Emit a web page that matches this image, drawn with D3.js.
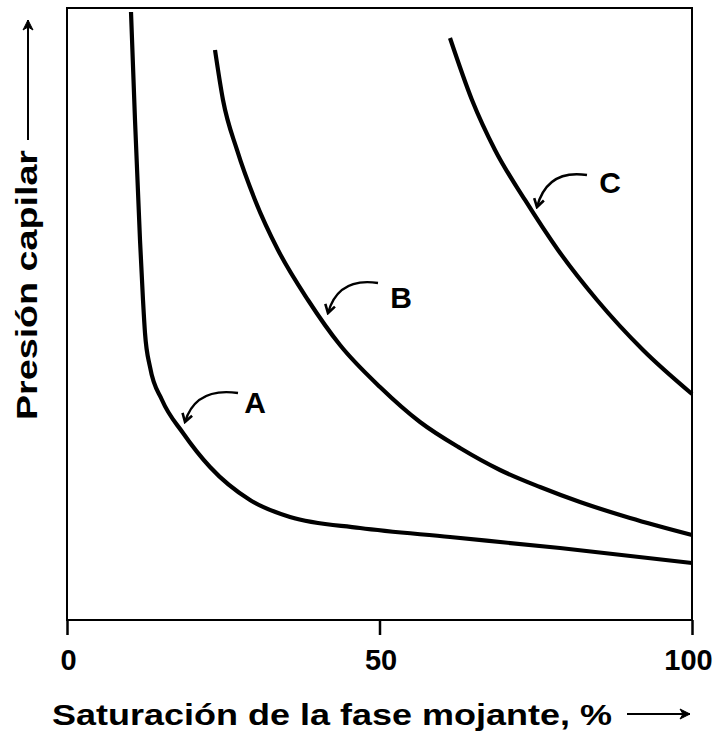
<!DOCTYPE html>
<html>
<head>
<meta charset="utf-8">
<script src="https://cdn.jsdelivr.net/npm/d3@7/dist/d3.min.js"></script>
<style>
  html, body { margin: 0; padding: 0; background: #fff; }
  svg text { font-family: "Liberation Sans", Arial, sans-serif; font-weight: bold; fill: #000; }
</style>
</head>
<body>
<svg id="chart" width="713" height="732"></svg>
<script>
// ---- data (x: saturation %, y: relative capillary pressure 0-100) ----
const xTicks = [0, 50, 100];
const curveA = [[10.24,99.35],[10.88,81.70],[11.68,62.09],[12.16,52.29],[12.48,46.90],[13.28,41.34],[15.2,35.95],[18.56,30.56],[22.88,25.0],[29.28,19.61],[35.68,16.83],[46.88,15.03],[61.28,13.56],[78.88,11.76],[100,9.31]];
const curveB = [[23.68,93.14],[24.96,84.97],[27.2,76.80],[30.08,68.63],[33.76,60.46],[38.56,52.29],[43.68,44.93],[50.08,38.07],[56.48,32.35],[62.88,28.10],[69.28,24.51],[75.68,21.73],[82.08,19.28],[90.08,16.67],[100,13.89]];
const curveC = [[61.28,95.10],[64.8,84.97],[68.48,76.80],[73.28,68.63],[78.56,60.46],[84.8,52.29],[92.16,44.12],[100,36.93]];
const seriesNames = ["A", "B", "C"];
// label anchor and arrow (start -> end on curve), in data units
const labelPos = [[30.08,33.82],[53.44,50.98],[86.88,69.77]];
const arrowStart = [[27.36,37.09],[49.76,55.07],[83.2,72.71]];
const arrowEnd = [[18.88,32.35],[41.76,50.16],[75.2,67.48]];
const xTitle = "Saturación de la fase mojante, %";
const yTitle = "Presión capilar";

// ---- layout ----
const svg = d3.select("#chart");
const mLeft = 67, mRight = 692, mTop = 8, mBottom = 620;
const x = d3.scaleLinear().domain([0, 100]).range([mLeft, mRight]);
const y = d3.scaleLinear().domain([0, 100]).range([mBottom, mTop]);

const defs = svg.append("defs");
defs.append("marker").attr("id", "head")
  .attr("viewBox", "-10 -6 12 12").attr("refX", 0).attr("refY", 0)
  .attr("markerWidth", 12).attr("markerHeight", 12)
  .attr("markerUnits", "userSpaceOnUse").attr("orient", "auto")
  .append("path").attr("d", "M-8,-5 L0,0 L-8,5")
  .attr("fill", "none").attr("stroke", "#000").attr("stroke-width", 2.6)
  .attr("stroke-linejoin", "miter");
defs.append("marker").attr("id", "axhead")
  .attr("viewBox", "-12 -7 14 14").attr("refX", 0).attr("refY", 0)
  .attr("markerWidth", 14).attr("markerHeight", 14)
  .attr("markerUnits", "userSpaceOnUse").attr("orient", "auto")
  .append("path").attr("d", "M-10,-5 L0,0 L-10,5 L-7,0 Z")
  .attr("fill", "#000").attr("stroke", "#000").attr("stroke-width", 1);

// frame
svg.append("rect").attr("x", mLeft).attr("y", mTop)
  .attr("width", mRight - mLeft).attr("height", mBottom - mTop)
  .attr("fill", "none").attr("stroke", "#000").attr("stroke-width", 2);

// bottom axis
const xAxis = d3.axisBottom(x).tickValues(xTicks).tickSize(15).tickPadding(14).tickFormat(d3.format("d"));
const gx = svg.append("g").attr("transform", `translate(0,${mBottom})`).call(xAxis);
gx.select(".domain").remove();
gx.selectAll(".tick line").attr("stroke", "#000").attr("stroke-width", 2.5);
gx.selectAll(".tick text").attr("font-size", 29).attr("dy", "0.71em")
  .attr("dx", d => d === 100 ? -4 : 1)
  .style("font-family", '"Liberation Sans", Arial, sans-serif').style("font-weight", "bold");

// curves
const line = d3.line().x(d => x(d[0])).y(d => y(d[1])).curve(d3.curveMonotoneX);
const plot = svg.append("g");
[curveA, curveB, curveC].forEach(c => {
  plot.append("path").datum(c).attr("d", line)
    .attr("fill", "none").attr("stroke", "#000").attr("stroke-width", 4.2)
    .attr("stroke-linecap", "butt");
});

// annotations
seriesNames.forEach((name, i) => {
  const sx = x(arrowStart[i][0]), sy = y(arrowStart[i][1]);
  const ex = x(arrowEnd[i][0]), ey = y(arrowEnd[i][1]);
  const cx = ex + (sx - ex) * 0.2, cy = sy - 6;
  svg.append("path").attr("d", `M${sx},${sy} Q${cx},${cy} ${ex},${ey}`)
    .attr("fill", "none").attr("stroke", "#000").attr("stroke-width", 2.4)
    .attr("marker-end", "url(#head)");
  svg.append("text").attr("x", x(labelPos[i][0])).attr("y", y(labelPos[i][1]))
    .attr("text-anchor", "middle").attr("font-size", 30).text(name);
});

// axis titles
svg.append("text").attr("x", 52).attr("y", 725).attr("font-size", 30)
  .attr("textLength", 560).attr("lengthAdjust", "spacingAndGlyphs").text(xTitle);
svg.append("line").attr("x1", 627).attr("y1", 714).attr("x2", 690).attr("y2", 714)
  .attr("stroke", "#000").attr("stroke-width", 2).attr("marker-end", "url(#axhead)");

svg.append("text").attr("transform", "translate(37,420) rotate(-90)").attr("font-size", 30)
  .attr("textLength", 270).attr("lengthAdjust", "spacingAndGlyphs").text(yTitle);
svg.append("line").attr("x1", 28).attr("y1", 140).attr("x2", 28).attr("y2", 20)
  .attr("stroke", "#000").attr("stroke-width", 2).attr("marker-end", "url(#axhead)");
</script>
</body>
</html>
